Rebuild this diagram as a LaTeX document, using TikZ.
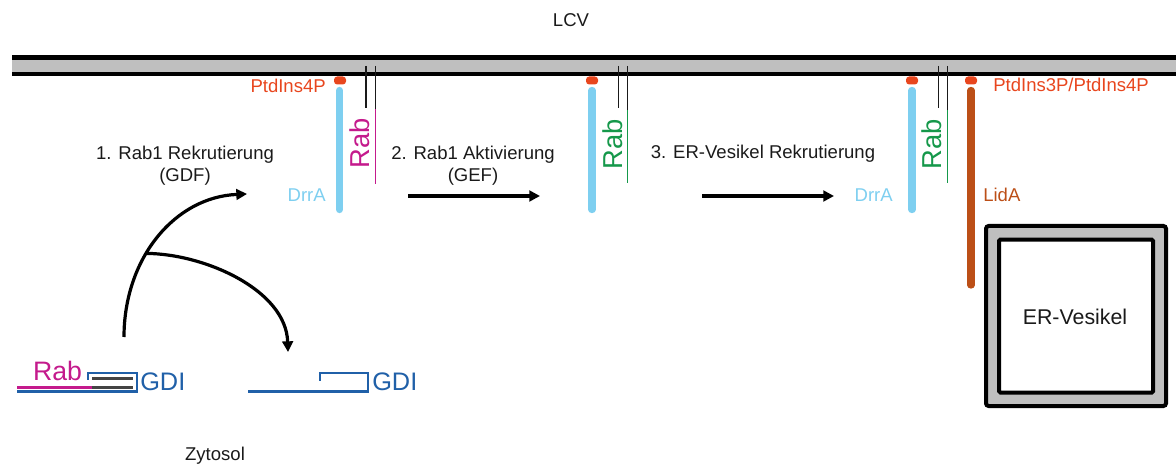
\documentclass[tikz,border=0pt]{standalone}
\usepackage{fontspec}
\setmainfont{Liberation Sans}
\usetikzlibrary{arrows.meta}
\definecolor{membgray}{HTML}{BFBFBF}
\definecolor{pipred}{HTML}{E8461E}
\definecolor{drrablue}{HTML}{7ECFF0}
\definecolor{rabpink}{HTML}{C41A8C}
\definecolor{rabgreen}{HTML}{15984A}
\definecolor{lidabrown}{HTML}{BC4F17}
\definecolor{gdiblue}{HTML}{2060A8}
\definecolor{txt}{HTML}{1A1A1A}
\definecolor{rabgray}{HTML}{444444}
\begin{document}
\begin{tikzpicture}[x=0.75pt,y=-0.75pt,
  lbl/.style={font=\fontsize{13.9}{16}\selectfont, text=txt, inner sep=0pt, anchor=base},
  raby/.style={font=\fontsize{20.5}{24}\selectfont, inner sep=0pt, rotate=90},
  bigtxt/.style={font=\fontsize{20}{24}\selectfont, inner sep=0pt, anchor=base},
  pipdot/.style={fill=pipred, rounded corners=2.4pt, minimum width=9pt, minimum height=6pt, inner sep=0pt},
  bar/.style={line width=5.5pt, line cap=round},
  tether/.style={line width=1.1pt, draw=txt},
  flow/.style={line width=2.4pt, -{Triangle[length=8pt,width=8pt]}},
  gdiline/.style={draw=gdiblue, line width=1.6pt},
  ]
\useasboundingbox (0,0) rectangle (1176,466);

% LCV membrane
\fill[membgray] (12,57.5) rectangle (1176,74);
\draw[line width=3.75pt] (12,57.5) -- (1176,57.5);
\draw[line width=3pt] (12,74) -- (1176,74);
\node[lbl] (lcv) at (571,27) {LCV};

% ---- stage 1: DrrA bound to PtdIns4P, Rab recruited
\node[pipdot] (pip1) at (340,80.5) {};
\draw[bar, drrablue] (339.5,90.5) -- (339.5,209.5);
\draw[tether] (366,66) -- (366,108);
\draw[tether] (375.5,66) -- (375.5,109);
\draw[line width=1.1pt, rabpink] (375.5,109) -- (375.5,184);
\node[raby, text=rabpink] (rab1) at (360,143) {Rab};
\node[lbl, anchor=base east, text=pipred] (pi4a) at (326,93) {PtdIns4P};
\node[lbl, anchor=base east, text=drrablue] (drra1) at (326,202) {DrrA};

% ---- stage 2: Rab activated
\node[pipdot] (pip2) at (592,80.5) {};
\draw[bar, drrablue] (592,90.5) -- (592,209.5);
\draw[tether] (618.3,66) -- (618.3,108);
\draw[tether] (627.7,66) -- (627.7,110);
\draw[line width=1.1pt, rabgreen] (627.7,110) -- (627.7,183);
\node[raby, text=rabgreen] (rab2) at (612.5,144) {Rab};

% ---- stage 3: ER vesicle recruited via LidA
\node[pipdot] (pip3) at (912,80.5) {};
\draw[bar, drrablue] (912,90.5) -- (912,209.5);
\draw[tether] (938.3,66) -- (938.3,108);
\draw[tether] (947.7,66) -- (947.7,110);
\draw[line width=1.1pt, rabgreen] (947.7,110) -- (947.7,183);
\node[raby, text=rabgreen] (rab3) at (931.7,144) {Rab};
\node[lbl, anchor=base east, text=drrablue] (drra3) at (893,202) {DrrA};
\node[pipdot] (pip4) at (971,80.5) {};
\draw[bar, lidabrown] (971,90.5) -- (971,285);
\node[lbl, anchor=base west, text=lidabrown] (lida) at (983,202) {LidA};
\node[lbl, anchor=base west, text=pipred] (pi34) at (993,92) {PtdIns3P/PtdIns4P};

% ER vesicle
\draw[line width=3pt, fill=membgray, rounded corners=2pt] (986,226) rectangle (1166,406);
\draw[line width=3pt, fill=white, rounded corners=1pt] (999,239.7) rectangle (1153,392.5);
\node[font=\fontsize{16}{19}\selectfont, text=txt, inner sep=0pt, anchor=base] (erv) at (1075,324) {ER-Vesikel};

% step labels
\node[lbl] (s1) at (185,160) {1. Rab1 Rekrutierung};
\node[lbl] (s1b) at (185,182) {(GDF)};
\node[lbl] (s2) at (473,160) {2. Rab1 Aktivierung};
\node[lbl] (s2b) at (473,182) {(GEF)};
\node[lbl] (s3) at (763,159) {3. ER-Vesikel Rekrutierung};

% step arrows
\coordinate (a2s) at (408,196);
\coordinate (a2e) at (540,196);
\coordinate (a3s) at (702,196);
\coordinate (a3e) at (834,196);
\draw[flow] (a2s) -- (a2e);
\draw[flow] (a3s) -- (a3e);

% Rab-GDI complex in the cytosol
\draw[line width=1.7pt, rabpink] (17,387.5) -- (92,387.5);
\draw[line width=1.7pt, rabgray] (92,387.5) -- (133,387.5);
\draw[line width=1.7pt, rabgray] (92,378.5) -- (133,378.5);
\draw[gdiline] (17,391.5) -- (137,391.5) -- (137,373) -- (88,373) -- (88,380);
\node[bigtxt, text=rabpink] (rab0) at (57.5,380) {Rab};
\node[bigtxt, anchor=base west, text=gdiblue, font=\fontsize{19}{23}\selectfont] (gdi1) at (140,390) {GDI};

% free GDI
\draw[gdiline] (248,391.5) -- (368,391.5) -- (368,373) -- (320,373) -- (320,381);
\node[bigtxt, anchor=base west, text=gdiblue, font=\fontsize{19}{23}\selectfont] (gdi2) at (372,390) {GDI};

% recruitment / GDI release arrows
\coordinate (c1s) at (124,337);
\coordinate (c1e) at (247,194);
\coordinate (c2e) at (288,352);
\draw[flow] (c1s) .. controls (124,258) and (175,197) .. (c1e) coordinate[pos=0.4] (br);
\draw[flow] (br) .. controls (205,254) and (286,290) .. (c2e);

\node[lbl] (zyto) at (215,460) {Zytosol};
\end{tikzpicture}
\end{document}
